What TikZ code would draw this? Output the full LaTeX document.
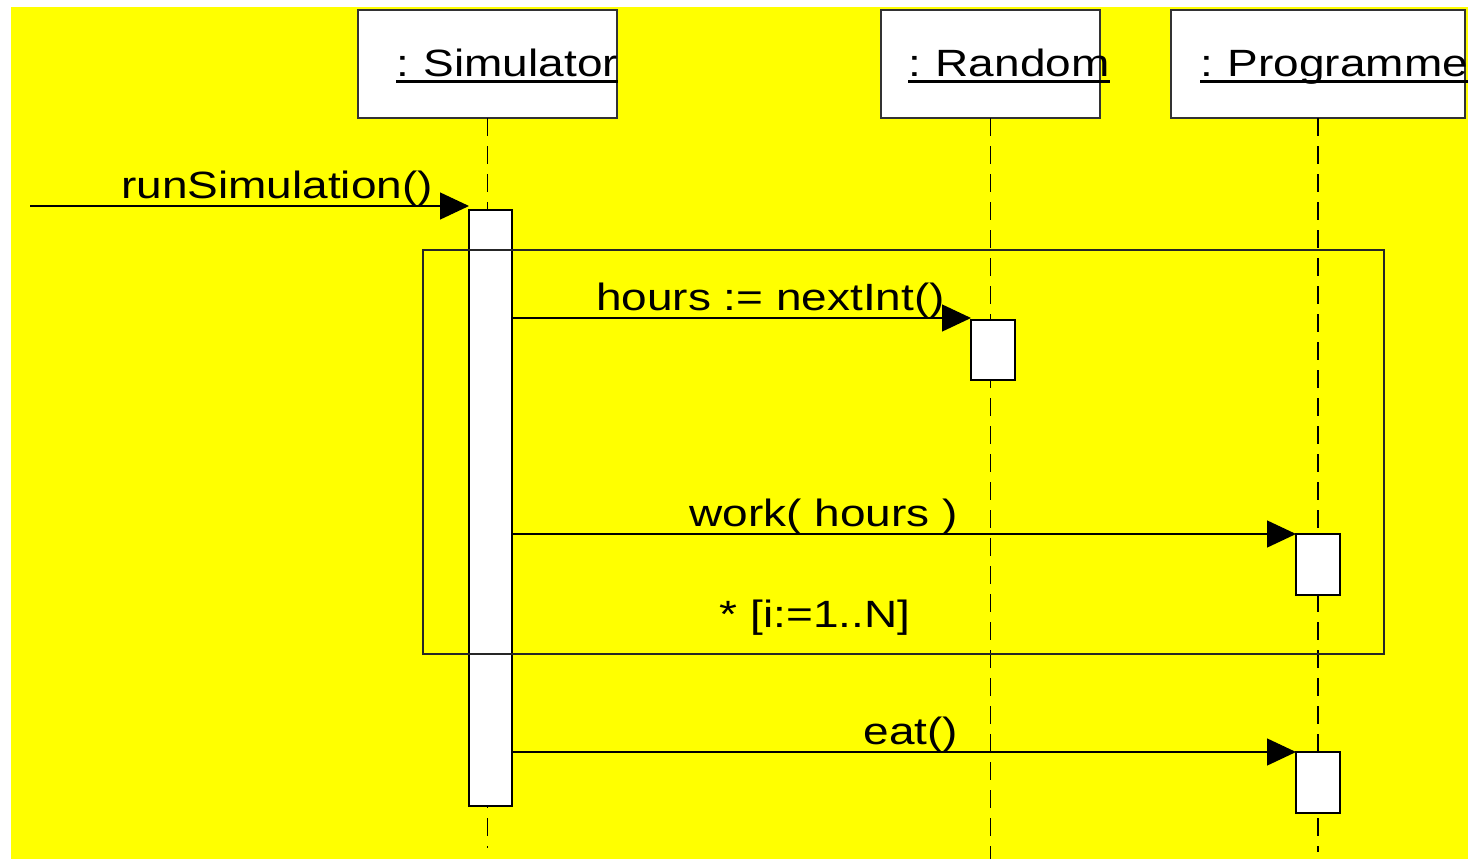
\documentclass[tikz,border=0pt]{standalone}
\usepackage{fontspec}
\setmainfont{Liberation Sans}[FakeStretch=1.21]
\usetikzlibrary{arrows.meta}
\definecolor{bgyellow}{RGB}{255,255,0}
\begin{document}
\begin{tikzpicture}[x=1pt,y=-1pt,
  every node/.style={inner sep=0pt, outer sep=0pt, font=\fontsize{38}{44}\selectfont},
  obj/.style={draw=black!80, fill=white, line width=1.3pt, anchor=north west},
  act/.style={draw=black, fill=white, line width=1.3pt, anchor=north west},
  life/.style={line width=1.3pt, dash pattern=on 18pt off 10pt},
  msg/.style={line width=1.3pt, -{Triangle[length=29pt,width=27pt]}},
  loopframe/.style={draw=black!85, line width=1.3pt, anchor=north west},
  uline/.style={line width=3.2pt}]
\useasboundingbox (0,0) rectangle (1472,859);
\fill[bgyellow] (11,7) rectangle (1468,859);
\begin{scope}
\clip (0,0) rectangle (1468,859);
% object heads
\node[obj, minimum width=259pt, minimum height=108pt] (sim) at (358,10) {};
\node[obj, minimum width=219pt, minimum height=108pt] (rnd) at (881,10) {};
\node[obj, minimum width=294pt, minimum height=108pt] (prg) at (1171,10) {};
\node[anchor=base west] (simt) at (396,77) {:\kern-2pt{} Simulator};
\node[anchor=base west] (rndt) at (908,77) {:\kern-2pt{} Random};
\node[anchor=base west] (prgt) at (1200,77) {:\kern-2pt{} Programme};
\draw[uline] ([yshift=-4.5pt]simt.base west) -- ([yshift=-4.5pt]simt.base east);
\draw[uline] ([yshift=-4.5pt]rndt.base west) -- ([yshift=-4.5pt]rndt.base east);
\draw[uline] ([yshift=-4.5pt]prgt.base west) -- ([yshift=-4.5pt]prgt.base east);
% lifelines
\coordinate (simend) at (487.5,848);
\coordinate (rndend) at (990.5,859);
\coordinate (prgend) at (1318,852);
\draw[life] (sim.south) -- (simend);
\draw[life] (rnd.south) -- (rndend);
\draw[life] (prg.south) -- (prgend);
% activations
\node[act, minimum width=43pt, minimum height=596pt] (simact) at (469,210) {};
\node[act, minimum width=44pt, minimum height=60pt] (rndact) at (971,320) {};
\node[act, minimum width=44pt, minimum height=61pt] (prgact1) at (1296,534) {};
\node[act, minimum width=44pt, minimum height=61pt] (prgact2) at (1296,752) {};
% loop frame
\node[loopframe, minimum width=961pt, minimum height=404pt] (loop) at (423,250) {};
\node[anchor=base] (cond) at (815,627) {* [i:=1..N]};
% messages
\coordinate (start) at (30,206);
\draw[msg] (start) -- (simact.west |- start);
\node[anchor=base east] (m1) at (433,198) {runSimulation()};
\coordinate (c2) at (971,318);
\draw[msg] (simact.east |- c2) -- (c2);
\node[anchor=base east] (m2) at (945,310) {hours := nextInt()};
\draw[msg] (simact.east |- prgact1.north) -- (prgact1.north west);
\node[anchor=base east] (m3) at (958,526) {work( hours )};
\draw[msg] (simact.east |- prgact2.north) -- (prgact2.north west);
\node[anchor=base east] (m4) at (958,744) {eat()};
\end{scope}
\end{tikzpicture}
\end{document}
